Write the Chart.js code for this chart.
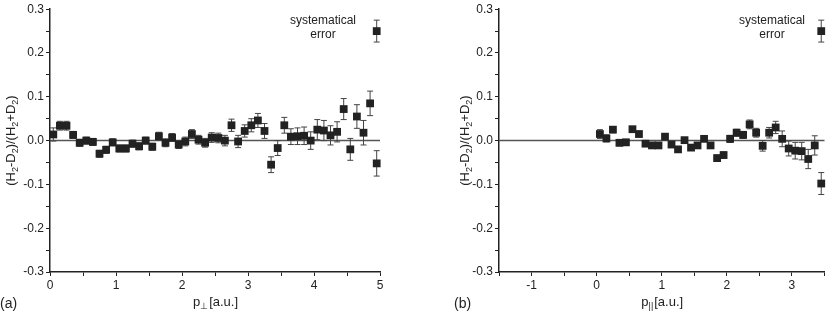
<!DOCTYPE html>
<html>
<head>
<meta charset="utf-8">
<script src="https://cdn.jsdelivr.net/npm/chart.js@4"></script>
<style>
  body { margin: 0; background: #fff; }
  #wrap { position: relative; width: 830px; height: 311px; }
  canvas { position: absolute; top: 0; }
</style>
</head>
<body>
<div id="wrap">
  <canvas id="chartA" width="415" height="311" style="left:0"></canvas>
  <canvas id="chartB" width="415" height="311" style="left:415px"></canvas>
</div>
<script>
'use strict'

// panel (a): asymmetry vs transverse momentum
let perpP = [0.05, 0.15, 0.25, 0.35, 0.45, 0.55, 0.65, 0.75, 0.85, 0.95,
  1.05, 1.15, 1.25, 1.35, 1.45, 1.55, 1.65, 1.75, 1.85, 1.95,
  2.05, 2.15, 2.25, 2.35, 2.45, 2.55, 2.65, 2.75, 2.85, 2.95,
  3.05, 3.15, 3.25, 3.35, 3.45, 3.55, 3.65, 3.75, 3.85, 3.95,
  4.05, 4.15, 4.25, 4.35, 4.45, 4.55, 4.65, 4.75, 4.85, 4.95];
let perpAsym = [0.014, 0.034, 0.034, 0.013, -0.005, 0.0, -0.003, -0.03, -0.021, -0.004,
  -0.018, -0.018, -0.007, -0.013, 0.0, -0.014, 0.01, -0.005, 0.007, -0.009,
  -0.002, 0.015, 0.002, -0.005, 0.007, 0.006, 0.0, 0.035, -0.002, 0.022,
  0.035, 0.046, 0.022, -0.055, -0.017, 0.035, 0.009, 0.01, 0.011, 0.0,
  0.025, 0.023, 0.012, 0.02, 0.072, -0.02, 0.055, 0.018, 0.085, -0.052];
let perpErr = [0.015, 0.01, 0.01, 0.008, 0.008, 0.008, 0.008, 0.008, 0.008, 0.008,
  0.008, 0.008, 0.008, 0.008, 0.008, 0.008, 0.009, 0.009, 0.009, 0.009,
  0.01, 0.01, 0.01, 0.01, 0.011, 0.011, 0.012, 0.014, 0.014, 0.014,
  0.015, 0.016, 0.017, 0.018, 0.017, 0.018, 0.018, 0.019, 0.02, 0.02,
  0.023, 0.023, 0.022, 0.023, 0.024, 0.025, 0.027, 0.028, 0.028, 0.029];

// panel (b): asymmetry vs longitudinal momentum
let parP = [0.05, 0.15, 0.25, 0.35, 0.45, 0.55, 0.65, 0.75, 0.85, 0.95,
  1.05, 1.15, 1.25, 1.35, 1.45, 1.55, 1.65, 1.75, 1.85, 1.95,
  2.05, 2.15, 2.25, 2.35, 2.45, 2.55, 2.65, 2.75, 2.85, 2.95,
  3.05, 3.15, 3.25, 3.35, 3.45];
let parAsym = [0.015, 0.005, 0.025, -0.005, -0.004, 0.026, 0.015, -0.007, -0.011, -0.011,
  0.009, -0.009, -0.02, 0.001, -0.016, -0.011, 0.004, -0.011, -0.04, -0.033,
  0.004, 0.018, 0.013, 0.037, 0.018, -0.012, 0.018, 0.03, 0.004, -0.018,
  -0.023, -0.024, -0.042, -0.011, -0.098];
let parErr = [0.01, 0.008, 0.007, 0.007, 0.007, 0.006, 0.006, 0.006, 0.006, 0.006,
  0.006, 0.006, 0.006, 0.006, 0.006, 0.006, 0.006, 0.006, 0.007, 0.007,
  0.008, 0.008, 0.008, 0.01, 0.01, 0.012, 0.012, 0.014, 0.018, 0.017,
  0.019, 0.02, 0.022, 0.022, 0.025];

// systematical error marker (x for a, x for b, value, error)
let sysX = [4.95, 3.45];
let sysY = 0.25;
let sysErr = 0.025;

let yTicks = [-0.3, -0.2, -0.1, 0.0, 0.1, 0.2, 0.3];

const FONT = 'Liberation Sans, Arial, sans-serif';
const INK = '#222';

function toPoints(xs, ys, es) {
  let pts = [];
  for (let i = 0; i < xs.length; i++) {
    pts.push({ x: xs[i], y: ys[i], err: es[i] });
  }
  return pts;
}

// draws error bars, zero line and the hand-placed texts
const extras = {
  id: 'extras',
  beforeDatasetsDraw(chart, args, opts) {
    let ctx = chart.ctx;
    let xs = chart.scales.x, ys = chart.scales.y;
    ctx.save();
    // zero line
    ctx.strokeStyle = '#555';
    ctx.lineWidth = 1.5;
    ctx.beginPath();
    ctx.moveTo(chart.chartArea.left, ys.getPixelForValue(0));
    ctx.lineTo(chart.chartArea.right, ys.getPixelForValue(0));
    ctx.stroke();
    // error bars
    ctx.strokeStyle = '#444';
    ctx.lineWidth = 1;
    chart.data.datasets.forEach(ds => {
      ds.data.forEach(p => {
        let px = xs.getPixelForValue(p.x);
        let top = ys.getPixelForValue(p.y + p.err);
        let bot = ys.getPixelForValue(p.y - p.err);
        ctx.beginPath();
        ctx.moveTo(px, top); ctx.lineTo(px, bot);
        ctx.moveTo(px - 3, top); ctx.lineTo(px + 3, top);
        ctx.moveTo(px - 3, bot); ctx.lineTo(px + 3, bot);
        ctx.stroke();
      });
    });
    ctx.restore();
  },
  afterDraw(chart, args, opts) {
    let ctx = chart.ctx;
    let area = chart.chartArea;
    ctx.save();
    ctx.fillStyle = INK;
    ctx.font = '12px ' + FONT;
    ctx.textBaseline = 'alphabetic';

    // legend text for systematical error
    ctx.textAlign = 'center';
    ctx.fillText('systematical', opts.sysTextX, 24);
    ctx.fillText('error', opts.sysTextX, 38);

    // panel letter
    ctx.textAlign = 'left';
    ctx.font = '14px ' + FONT;
    ctx.fillText(opts.letter, opts.letterX, 308);

    // x title with subscript
    ctx.font = '13px ' + FONT;
    let cx = (area.left + area.right) / 2;
    let w1 = ctx.measureText('p').width;
    ctx.font = '9px ' + FONT;
    let w2 = ctx.measureText(opts.sub).width;
    ctx.font = '13px ' + FONT;
    let w3 = ctx.measureText('[a.u.]').width;
    let x0 = cx - (w1 + w2 + w3) / 2;
    ctx.fillText('p', x0, 306);
    ctx.font = '9px ' + FONT;
    ctx.fillText(opts.sub, x0 + w1, 309);
    ctx.font = '13px ' + FONT;
    ctx.fillText('[a.u.]', x0 + w1 + w2 + 1, 306);

    // y title, rotated, with subscripts
    let parts = [['(H', 0], ['2', 1], ['-D', 0], ['2', 1], [')/(H', 0], ['2', 1], ['+D', 0], ['2', 1], [')', 0]];
    let total = 0;
    parts.forEach(p => {
      ctx.font = (p[1] ? '9px ' : '13px ') + FONT;
      total += ctx.measureText(p[0]).width;
    });
    ctx.translate(opts.yTitleX, (area.top + area.bottom) / 2);
    ctx.rotate(-Math.PI / 2);
    let pos = -total / 2;
    parts.forEach(p => {
      ctx.font = (p[1] ? '9px ' : '13px ') + FONT;
      ctx.fillText(p[0], pos, p[1] ? 7 : 4);
      pos += ctx.measureText(p[0]).width;
    });
    ctx.restore();
  }
};

function makeChart(id, pts, sysPoint, xMin, xMax, padLeft, padRight, extraOpts) {
  return new Chart(document.getElementById(id), {
    type: 'scatter',
    data: {
      datasets: [{
        data: pts,
        pointStyle: 'rect',
        pointRadius: 5.5,
        pointHoverRadius: 5.5,
        backgroundColor: INK,
        borderColor: INK,
        borderWidth: 0,
        clip: false
      }, {
        data: [sysPoint],
        pointStyle: 'rect',
        pointRadius: 5.5,
        pointHoverRadius: 5.5,
        backgroundColor: INK,
        borderColor: INK,
        borderWidth: 0,
        clip: false
      }]
    },
    options: {
      responsive: false,
      animation: false,
      events: [],
      layout: { padding: { top: 5, left: padLeft, right: padRight, bottom: 0 } },
      plugins: {
        legend: { display: false },
        tooltip: { enabled: false },
        extras: extraOpts
      },
      scales: {
        x: {
          type: 'linear',
          min: xMin,
          max: xMax,
          afterFit(scale) { scale.height = 39; },
          afterBuildTicks(scale) {
            let t = [];
            for (let v = xMin; v <= xMax + 1e-9; v += 0.5) t.push({ value: v });
            scale.ticks = t;
          },
          border: { display: true, color: INK, width: 1.5 },
          grid: { drawOnChartArea: false, drawTicks: true, tickLength: 4, color: INK },
          ticks: {
            color: INK,
            font: { family: FONT, size: 12 },
            padding: 2,
            maxRotation: 0,
            autoSkip: false,
            callback(v) {
              return Math.abs(v - Math.round(v)) < 1e-6 ? String(Math.round(v)) : '';
            }
          }
        },
        y: {
          min: -0.3,
          max: 0.3,
          afterFit(scale) { scale.width = 50; },
          afterBuildTicks(scale) {
            let t = [];
            yTicks.forEach((v, i) => {
              t.push({ value: v });
              if (i < yTicks.length - 1) t.push({ value: v + 0.05 });
            });
            scale.ticks = t;
          },
          border: { display: true, color: INK, width: 1.5 },
          grid: { drawOnChartArea: false, drawTicks: true, tickLength: 4, color: INK },
          ticks: {
            color: INK,
            font: { family: FONT, size: 12 },
            padding: 2,
            autoSkip: false,
            callback(v) {
              let k = Math.round(v * 100);
              return k % 10 === 0 ? (k / 100).toFixed(1) : '';
            }
          }
        }
      }
    },
    plugins: [extras]
  });
}

makeChart('chartA', toPoints(perpP, perpAsym, perpErr),
  { x: sysX[0], y: sysY, err: sysErr }, 0, 5, 0, 35,
  { letter: '(a)', letterX: 0, sub: '\u22A5', sysTextX: 323, yTitleX: 11 });

makeChart('chartB', toPoints(parP, parAsym, parErr),
  { x: sysX[1], y: sysY, err: sysErr }, -1.5, 3.5, 34, 1,
  { letter: '(b)', letterX: 39, sub: '||', sysTextX: 357, yTitleX: 50 });
</script>
</body>
</html>
